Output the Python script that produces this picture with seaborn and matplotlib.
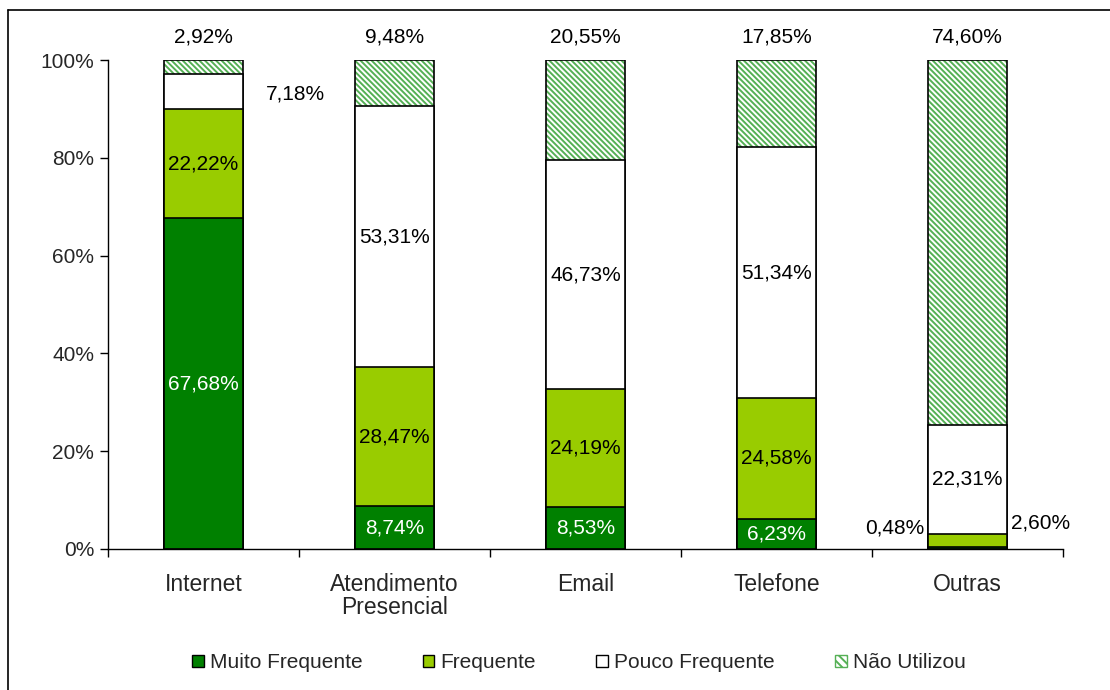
import matplotlib
matplotlib.use("Agg")
import matplotlib.pyplot as plt
import seaborn as sns
import pandas as pd
import numpy as np
from matplotlib.patches import Patch
from matplotlib.lines import Line2D

categories = ["Internet", "Atendimento\nPresencial", "Email", "Telefone", "Outras"]
series = ["Muito Frequente", "Frequente", "Pouco Frequente", "Não Utilizou"]
muito_frequente = [67.68, 8.74, 8.53, 6.23, 0.48]
frequente = [22.22, 28.47, 24.19, 24.58, 2.60]
pouco_frequente = [7.18, 53.31, 46.73, 51.34, 22.31]
nao_utilizou = [2.92, 9.48, 20.55, 17.85, 74.60]
yticks = [0, 20, 40, 60, 80, 100]

sns.set_theme(style="white")
plt.rcParams['font.family'] = ['Liberation Sans', 'DejaVu Sans']
plt.rcParams['hatch.linewidth'] = 1.4
FS = 15
FSX = 16.5

c_mf = "#008000"
c_f = "#99CC00"
c_hatch = "#55B055"

vals = np.array([muito_frequente, frequente, pouco_frequente, nao_utilizou])
cum = np.cumsum(vals, axis=0)

fig = plt.figure(figsize=(11.1, 6.9), dpi=100)
ax = fig.add_axes([108/1110, 1-549/690, (1063-108)/1110, (549-60)/690])

W = 0.41
def layer(level, **kw):
    df = pd.DataFrame({"cat": categories, "val": cum[level]})
    sns.barplot(data=df, x="cat", y="val", order=categories, width=W, ax=ax, **kw)

# Não Utilizou (hatched): total height
layer(3, color="white", edgecolor=c_hatch, hatch="\\\\\\\\\\\\", linewidth=0)
layer(3, fill=False, edgecolor="black", linewidth=1.2)
layer(2, color="white", edgecolor="black", linewidth=1.2)
layer(1, color=c_f, saturation=1, edgecolor="black", linewidth=1.2)
layer(0, color=c_mf, saturation=1, edgecolor="black", linewidth=1.2)

def fmt(v):
    return f"{v:.2f}%".replace(".", ",")

n = len(categories)
for i in range(n):
    for s in range(3):
        v = vals[s][i]
        mid = cum[s][i] - v / 2
        x = i
        if i == 0 and s == 2:
            x = i + 0.48; mid = cum[2][i] - v / 2 - 0.5
        if i == 4 and s == 0:
            x = i - 0.38; mid = 4.3
        if i == 4 and s == 1:
            x = i + 0.38; mid = 5.3
        color = "white" if s == 0 and i < 4 else "black"
        ax.text(x, mid, fmt(v), ha="center", va="center", fontsize=FS, color=color)
    ax.text(i, 104.7, fmt(vals[3][i]), ha="center", va="center", fontsize=FS,
            color="black", clip_on=False)

ax.set_xlim(-0.5, n - 0.5)
ax.set_ylim(0, 100)
ax.set_yticks(yticks)
ax.set_yticklabels([f"{t}%" for t in yticks], fontsize=FS)
ax.set_xlabel("")
ax.set_ylabel("")
ax.set_xticks(range(n))
ax.set_xticklabels(categories, fontsize=FSX, linespacing=1.0)
ax.tick_params(axis="x", which="major", length=0, pad=17)
ax.set_xticks(np.arange(-0.5, n, 1.0), minor=True)
ax.tick_params(axis="x", which="minor", length=6, width=1, color="black", direction="out", bottom=True)
ax.tick_params(axis="y", length=6, width=1, color="black", direction="out", left=True, pad=4)
for sp in ["top", "right"]:
    ax.spines[sp].set_visible(False)
for sp in ["left", "bottom"]:
    ax.spines[sp].set_color("black")
    ax.spines[sp].set_linewidth(1)
ax.grid(False)

handles = [
    Patch(facecolor=c_mf, edgecolor="black", linewidth=1),
    Patch(facecolor=c_f, edgecolor="black", linewidth=1),
    Patch(facecolor="white", edgecolor="black", linewidth=1),
    Patch(facecolor="white", edgecolor=c_hatch, hatch="\\\\\\\\", linewidth=1),
]
fig.legend(handles, series, loc="center", bbox_to_anchor=(0.5216, 1-663/690), ncol=4,
           frameon=False, fontsize=FS, handlelength=0.55, handleheight=0.55,
           handletextpad=0.3, columnspacing=2.9)

# figure border (left and top)
fig.add_artist(Line2D([8/1110, 8/1110], [0, 1-10/690], transform=fig.transFigure, color="black", lw=1.2))
fig.add_artist(Line2D([8/1110, 1], [1-10/690, 1-10/690], transform=fig.transFigure, color="black", lw=1.2))

fig.savefig("out.png", dpi=100, facecolor="white")
